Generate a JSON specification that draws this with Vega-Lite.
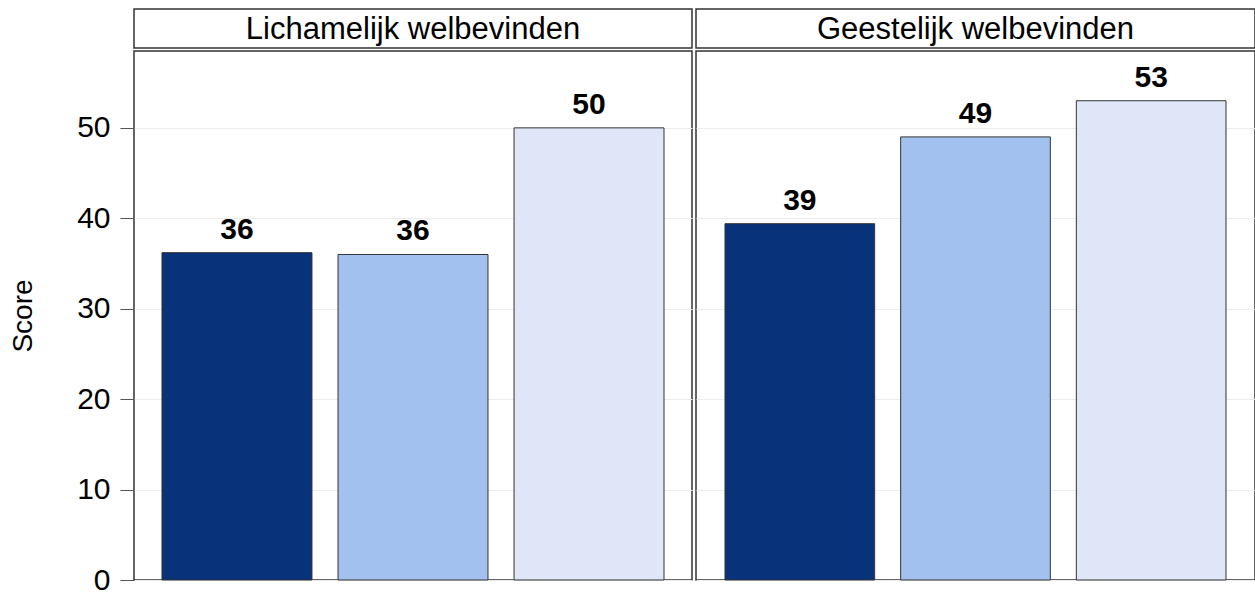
{
  "$schema": "https://vega.github.io/schema/vega-lite/v6.json",
  "padding": {"left": 8, "top": 8, "right": 2, "bottom": 5},
  "background": "white",
  "config": {
    "font": "Liberation Sans",
    "view": {"stroke": "#333", "strokeWidth": 1.5},
    "concat": {"spacing": 2}
  },
  "datasets": {
    "scores": [
      {"panel": "Lichamelijk welbevinden", "group": "Groep 1", "score": 36.2},
      {"panel": "Lichamelijk welbevinden", "group": "Groep 2", "score": 36.0},
      {"panel": "Lichamelijk welbevinden", "group": "Groep 3", "score": 50.0},
      {"panel": "Geestelijk welbevinden", "group": "Groep 1", "score": 39.4},
      {"panel": "Geestelijk welbevinden", "group": "Groep 2", "score": 49.0},
      {"panel": "Geestelijk welbevinden", "group": "Groep 3", "score": 53.0}
    ],
    "headers": [
      {"panel": "Lichamelijk welbevinden"},
      {"panel": "Geestelijk welbevinden"}
    ]
  },
  "hconcat": [
    {
      "vconcat": [
        {
          "width": 558, "height": 39,
          "data": {"name": "headers"},
          "transform": [{"filter": "datum.panel == 'Lichamelijk welbevinden'"}],
          "mark": {"type": "text", "fontSize": 31, "color": "black", "baseline": "middle", "dy": 1},
          "encoding": {
            "x": {"field": "panel", "type": "nominal", "axis": null},
            "text": {"field": "panel"}
          }
        },
        {
          "width": 558, "height": 529,
          "data": {"name": "scores"},
          "transform": [{"filter": "datum.panel == 'Lichamelijk welbevinden'"}],
          "encoding": {
            "x": {"field": "group", "type": "nominal", "sort": null, "axis": null,
                  "scale": {"paddingInner": 0.148, "paddingOuter": 0.159}},
            "y": {"field": "score", "type": "quantitative",
                  "scale": {"domain": [0, 58.5], "nice": false, "zero": true},
                  "axis": {"title": "Score", "values": [0, 10, 20, 30, 40, 50],
                           "grid": true, "gridColor": "#ececec", "domain": false,
                           "tickColor": "#555", "tickSize": 14, "labelPadding": 10,
                           "labelFontSize": 30, "labelColor": "black",
                           "titleFontSize": 28, "titleFontWeight": "normal", "titleColor": "black",
                           "titlePadding": 39}}
          },
          "layer": [
            {
              "mark": {"type": "bar", "stroke": "#333", "strokeWidth": 1},
              "encoding": {
                "color": {"field": "group", "type": "nominal", "legend": null,
                          "scale": {"domain": ["Groep 1", "Groep 2", "Groep 3"],
                                    "range": ["#08337a", "#a3c1ef", "#dee6f7"]}}
              }
            },
            {
              "mark": {"type": "text", "baseline": "alphabetic", "dy": -14, "fontWeight": "bold", "fontSize": 30, "color": "black"},
              "encoding": {"text": {"field": "score", "type": "quantitative", "format": ".0f"}}
            }
          ]
        }
      ],
      "spacing": 3,
      "bounds": "flush"
    },
    {
      "vconcat": [
        {
          "width": 559, "height": 39,
          "data": {"name": "headers"},
          "transform": [{"filter": "datum.panel == 'Geestelijk welbevinden'"}],
          "mark": {"type": "text", "fontSize": 31, "color": "black", "baseline": "middle", "dy": 1},
          "encoding": {
            "x": {"field": "panel", "type": "nominal", "axis": null},
            "text": {"field": "panel"}
          }
        },
        {
          "width": 559, "height": 529,
          "data": {"name": "scores"},
          "transform": [{"filter": "datum.panel == 'Geestelijk welbevinden'"}],
          "encoding": {
            "x": {"field": "group", "type": "nominal", "sort": null, "axis": null,
                  "scale": {"paddingInner": 0.148, "paddingOuter": 0.165}},
            "y": {"field": "score", "type": "quantitative",
                  "scale": {"domain": [0, 58.5], "nice": false, "zero": true},
                  "axis": {"title": null, "values": [0, 10, 20, 30, 40, 50],
                           "grid": true, "gridColor": "#ececec", "domain": false,
                           "ticks": false, "labels": false}}
          },
          "layer": [
            {
              "mark": {"type": "bar", "stroke": "#333", "strokeWidth": 1},
              "encoding": {
                "color": {"field": "group", "type": "nominal", "legend": null,
                          "scale": {"domain": ["Groep 1", "Groep 2", "Groep 3"],
                                    "range": ["#08337a", "#a3c1ef", "#dee6f7"]}}
              }
            },
            {
              "mark": {"type": "text", "baseline": "alphabetic", "dy": -14, "fontWeight": "bold", "fontSize": 30, "color": "black"},
              "encoding": {"text": {"field": "score", "type": "quantitative", "format": ".0f"}}
            }
          ]
        }
      ],
      "spacing": 3,
      "bounds": "flush"
    }
  ]
}
